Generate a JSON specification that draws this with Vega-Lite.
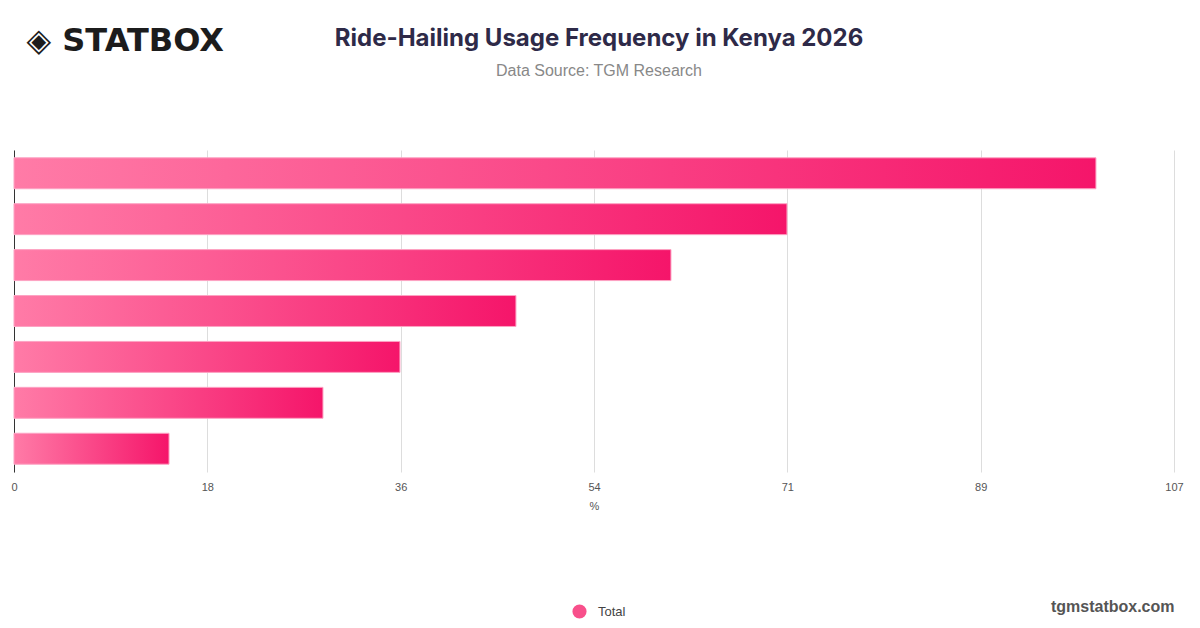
{
  "$schema": "https://vega.github.io/schema/vega-lite/v6.json",
  "description": "Ride-Hailing Usage Frequency in Kenya 2026",
  "autosize": {"type": "none"},
  "width": 1160,
  "height": 322,
  "padding": {"left": 14, "top": 150, "right": 26, "bottom": 156},
  "background": "white",
  "config": {
    "view": {"stroke": null},
    "font": "Liberation Sans"
  },
  "title": {
    "text": "Ride-Hailing Usage Frequency in Kenya 2026",
    "subtitle": "Data Source: TGM Research",
    "font": "Inter",
    "fontSize": 24,
    "fontWeight": 700,
    "color": "#2e2a48",
    "subtitleFont": "Liberation Sans",
    "subtitleFontSize": 16,
    "subtitleColor": "#888888",
    "subtitlePadding": 12,
    "anchor": "middle",
    "offset": -55,
    "dx": 5
  },
  "data": {
    "values": [
      {"frequency": "Daily", "share": 99.8},
      {"frequency": "Several times a week", "share": 71.3},
      {"frequency": "Weekly", "share": 60.6},
      {"frequency": "Several times a month", "share": 46.3},
      {"frequency": "Monthly", "share": 35.6},
      {"frequency": "Less than monthly", "share": 28.5},
      {"frequency": "Rarely", "share": 14.3}
    ]
  },
  "resolve": {"axis": {"x": "independent"}},
  "layer": [
    {
      "mark": {
        "type": "bar",
        "color": {
          "gradient": "linear",
          "x1": 0, "y1": 0, "x2": 1, "y2": 0,
          "stops": [
            {"offset": 0, "color": "#ff7ba7"},
            {"offset": 1, "color": "#f5156a"}
          ]
        },
        "stroke": "#fda3c3",
        "strokeWidth": 1
      },
      "encoding": {
        "y": {
          "field": "frequency",
          "type": "nominal",
          "sort": null,
          "scale": {"paddingInner": 0.326, "paddingOuter": 0.17},
          "axis": {
            "labels": false,
            "ticks": false,
            "grid": false,
            "domain": true,
            "domainColor": "#333333",
            "domainWidth": 1,
            "title": "◈ STATBOX",
            "titleAngle": 0,
            "titleX": 12,
            "titleY": -110,
            "titleAlign": "left",
            "titleBaseline": "middle",
            "titleFont": "DejaVu Sans",
            "titleFontSize": 32,
            "titleFontWeight": 900,
            "titleColor": "#1c1c1c"
          }
        },
        "x": {
          "field": "share",
          "type": "quantitative",
          "scale": {"domain": [0, 107], "nice": false, "zero": true},
          "axis": {
            "values": [0, 17.8333, 35.6667, 53.5, 71.3333, 89.1667, 107],
            "format": ".0f",
            "labelFlush": false,
            "grid": true,
            "gridColor": "#dddddd",
            "ticks": false,
            "domain": false,
            "labelColor": "#555555",
            "labelFontSize": 11,
            "labelPadding": 9,
            "title": "%",
            "titleFontSize": 11,
            "titleFontWeight": "normal",
            "titleColor": "#555555",
            "titlePadding": 8
          }
        }
      }
    },
    {
      "mark": {"type": "point", "filled": true, "opacity": 0},
      "encoding": {
        "y": {"field": "frequency", "type": "nominal", "sort": null},
        "x": {
          "field": "share",
          "type": "quantitative",
          "axis": {
            "orient": "top",
            "labels": false,
            "ticks": false,
            "domain": false,
            "grid": false,
            "title": "tgmstatbox.com",
            "titleX": 1160,
            "titleY": 456,
            "titleAlign": "right",
            "titleBaseline": "middle",
            "titleFontSize": 16,
            "titleFontWeight": "bold",
            "titleColor": "#555555"
          }
        },
        "color": {
          "datum": "Total",
          "type": "nominal",
          "scale": {"range": ["#f8508b"]},
          "legend": {
            "orient": "none",
            "legendX": 558,
            "legendY": 454,
            "title": null,
            "symbolType": "circle",
            "symbolSize": 200,
            "symbolOpacity": 1,
            "symbolStrokeWidth": 0,
            "labelOffset": 11,
            "labelFontSize": 13,
            "labelColor": "#444444"
          }
        }
      }
    }
  ]
}
